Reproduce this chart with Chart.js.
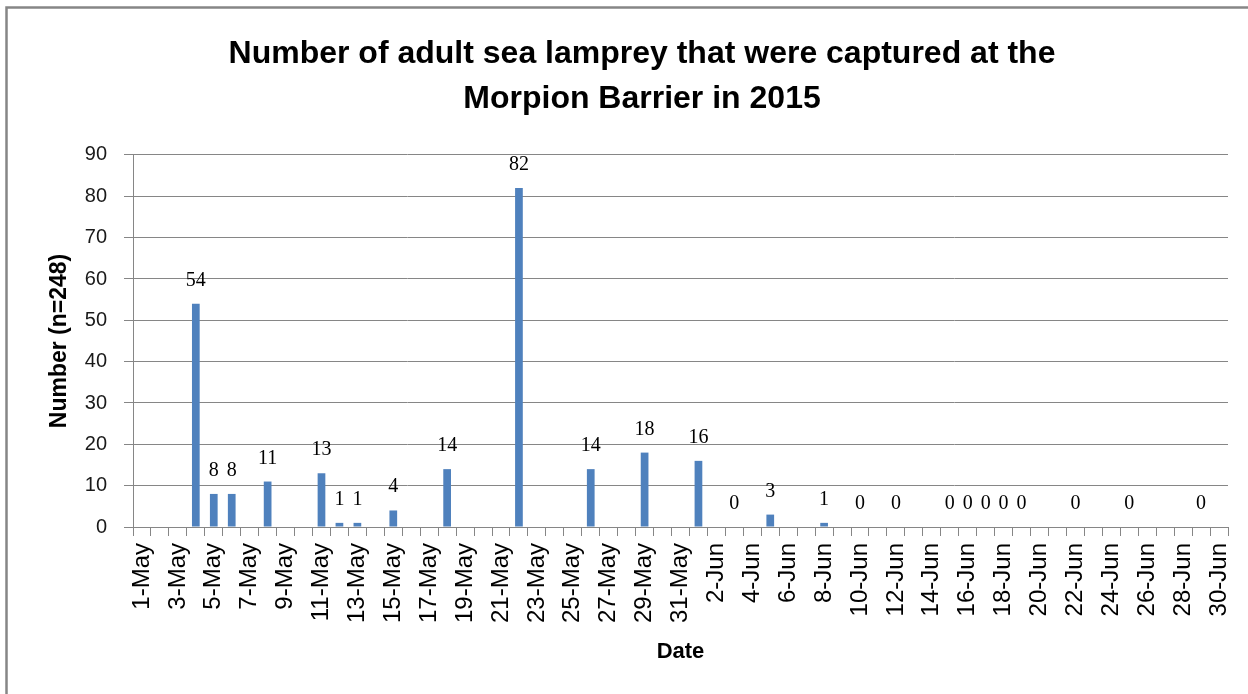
<!DOCTYPE html>
<html>
<head>
<meta charset="utf-8">
<script src="https://cdn.jsdelivr.net/npm/chart.js@4.4.1/dist/chart.umd.min.js"></script>
<style>
  html, body { margin: 0; padding: 0; background: #ffffff; }
  #wrap { width: 1248px; height: 694px; position: relative; }
</style>
</head>
<body>
<div id="wrap"><canvas id="c" width="1248" height="694"></canvas></div>
<script>
// ---- data ----
const titleLines = ["Number of adult sea lamprey that were captured at the", "Morpion Barrier in 2015"];
const xTitle = "Date";
const yTitle = "Number (n=248)";

const categories = [
  "1-May","2-May","3-May","4-May","5-May","6-May","7-May","8-May","9-May","10-May",
  "11-May","12-May","13-May","14-May","15-May","16-May","17-May","18-May","19-May","20-May",
  "21-May","22-May","23-May","24-May","25-May","26-May","27-May","28-May","29-May","30-May",
  "31-May","1-Jun","2-Jun","3-Jun","4-Jun","5-Jun","6-Jun","7-Jun","8-Jun","9-Jun",
  "10-Jun","11-Jun","12-Jun","13-Jun","14-Jun","15-Jun","16-Jun","17-Jun","18-Jun","19-Jun",
  "20-Jun","21-Jun","22-Jun","23-Jun","24-Jun","25-Jun","26-Jun","27-Jun","28-Jun","29-Jun",
  "30-Jun"
];

const captured = [
  null, null, null, 54,   8,    8,    null, 11,   null, null,
  13,   1,    1,    null, 4,    null, null, 14,   null, null,
  null, 82,   null, null, null, 14,   null, null, 18,   null,
  null, 16,   null, 0,    null, 3,    null, null, 1,    null,
  0,    null, 0,    null, null, 0,    0,    0,    0,    0,
  null, null, 0,    null, null, 0,    null, null, null, 0,
  null
];

const yTicks = [0, 10, 20, 30, 40, 50, 60, 70, 80, 90];

// ---- plugins ----
const frame = {
  id: 'frame',
  beforeDraw(chart) {
    const ctx = chart.ctx;
    ctx.save();
    ctx.fillStyle = '#ffffff';
    ctx.fillRect(0, 0, chart.width, chart.height);
    ctx.strokeStyle = '#868686';
    ctx.lineWidth = 2.5;
    ctx.beginPath();
    ctx.moveTo(6.5, chart.height + 2);
    ctx.lineTo(6.5, 7.5);
    ctx.lineTo(chart.width + 2, 7.5);
    ctx.stroke();
    ctx.restore();
  }
};

const valueLabels = {
  id: 'valueLabels',
  afterDatasetsDraw(chart) {
    const ctx = chart.ctx;
    const meta = chart.getDatasetMeta(0);
    const data = chart.data.datasets[0].data;
    ctx.save();
    ctx.font = '20px "Liberation Serif", "DejaVu Serif", serif';
    ctx.fillStyle = '#000000';
    ctx.textAlign = 'center';
    ctx.textBaseline = 'alphabetic';
    meta.data.forEach((bar, i) => {
      const v = data[i];
      if (v === null || v === undefined) return;
      ctx.fillText(String(v), bar.x, bar.y - 18);
    });
    ctx.restore();
  }
};

const GRID = '#868686';

new Chart(document.getElementById('c'), {
  type: 'bar',
  data: {
    labels: categories,
    datasets: [{
      data: captured,
      backgroundColor: '#4F81BD',
      borderWidth: 0,
      barPercentage: 0.43,
      categoryPercentage: 1.0
    }]
  },
  options: {
    responsive: false,
    animation: false,
    devicePixelRatio: 1,
    layout: { padding: { left: 56, right: 20, top: 0, bottom: 0 } },
    plugins: {
      legend: { display: false },
      tooltip: { enabled: false },
      title: {
        display: true,
        text: titleLines,
        color: '#000000',
        font: { family: '"Liberation Sans", Arial, sans-serif', size: 32, weight: 'bold', lineHeight: 1.406 },
        padding: { top: 31.5, bottom: 33.5 }
      }
    },
    scales: {
      x: {
        type: 'category',
        offset: true,
        grid: {
          display: true,
          drawOnChartArea: false,
          drawTicks: true,
          tickLength: 9,
          offset: true,
          color: GRID,
          lineWidth: 1
        },
        border: { display: true, color: GRID, width: 1 },
        ticks: {
          autoSkip: false,
          minRotation: 90,
          maxRotation: 90,
          padding: 7,
          color: '#000000',
          font: { family: '"Liberation Sans", Arial, sans-serif', size: 24 },
          callback: function(value, index) { return index % 2 === 0 ? categories[index] : ''; }
        },
        title: {
          display: true,
          text: xTitle,
          color: '#000000',
          font: { family: '"Liberation Sans", Arial, sans-serif', size: 22, weight: 'bold', lineHeight: 1.2 },
          padding: { top: 0, bottom: 29 }
        },
        afterFit(scale) {
          scale.height = 167;
          scale.paddingLeft = 0;
          scale.paddingRight = 0;
        }
      },
      y: {
        min: 0,
        max: 90,
        afterBuildTicks(scale) { scale.ticks = yTicks.map(v => ({ value: v })); },
        grid: {
          color: GRID,
          lineWidth: 1,
          drawTicks: true,
          tickLength: 9
        },
        border: { display: true, color: GRID, width: 1 },
        ticks: {
          padding: 17,
          color: '#1a1a1a',
          font: { family: '"Liberation Sans", Arial, sans-serif', size: 20 }
        },
        title: {
          display: true,
          text: yTitle,
          color: '#000000',
          font: { family: '"Liberation Sans", Arial, sans-serif', size: 23, weight: 'bold', lineHeight: 1.0 },
          padding: { top: -8, bottom: 0 }
        },
        afterFit(scale) { scale.width = 77; }
      }
    }
  },
  plugins: [frame, valueLabels]
});
</script>
</body>
</html>
